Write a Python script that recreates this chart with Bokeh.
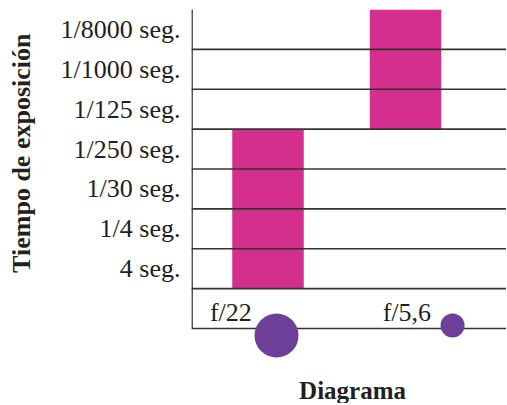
import math
from bokeh.plotting import figure
from bokeh.layouts import row
from bokeh.models import Range1d, FixedTicker, ColumnDataSource
from bokeh.core.properties import value
from bokeh.embed import file_html
from bokeh.resources import INLINE

# ---- data ----
exposure_times = ["4 seg.", "1/4 seg.", "1/30 seg.", "1/250 seg.",
                  "1/125 seg.", "1/1000 seg.", "1/8000 seg."]
apertures = ["f/22", "f/5,6"]
bar_from = ["4 seg.", "1/125 seg."]
bar_to = ["1/250 seg.", "1/8000 seg."]
aperture_diam = [44, 24]          # relative opening size (drawn in px)
y_title = "Tiempo de exposición"
x_title = "Diagrama"

BAR = "#d52f8e"
DOT = "#6e3f98"
LINE = "#333333"
TXT = "#231f20"
SERIF = "Liberation Serif"

# row index: row 0 = aperture label row, rows 1..7 = exposure times
row_of = {t: i + 1 for i, t in enumerate(exposure_times)}
n_rows = len(exposure_times) + 1

H = 403
TW = 40

# ---- narrow strip holding the vertical title ----
t = figure(width=TW, height=H, output_backend="svg", toolbar_location=None,
           x_range=Range1d(0, TW), y_range=Range1d(H, 0),
           x_axis_location=None, y_axis_location=None, min_border=0)
t.outline_line_color = None
t.xgrid.visible = False
t.ygrid.visible = False
t.text(x=[21], y=[147], text=[y_title], angle=math.pi / 2,
       text_font=value(SERIF), text_font_size="26px", text_font_style="bold",
       text_color=TXT, text_align="center", text_baseline="middle")

# ---- main chart ----
X0, X1 = -0.0564, 2.2345
p = figure(width=506 - TW, height=H, output_backend="svg", toolbar_location=None,
           x_range=Range1d(X0, X1), y_range=Range1d(-1.881, 8.0),
           x_axis_location=None, min_border_left=191 - TW, min_border_top=9,
           min_border_right=0, min_border_bottom=0)
p.outline_line_color = None
p.xgrid.visible = False
p.ygrid.visible = False
p.background_fill_color = "white"
p.border_fill_color = "white"

# y axis with exposure labels at row centres
yax = p.yaxis[0]
yax.ticker = FixedTicker(ticks=[row_of[t_] + 0.5 for t_ in exposure_times])
yax.major_label_overrides = {row_of[t_] + 0.5: t_ for t_ in exposure_times}
yax.axis_line_color = None
yax.major_tick_line_color = None
yax.minor_tick_line_color = None
yax.major_tick_out = 0
yax.major_tick_in = 0
yax.major_label_standoff = 11
yax.major_label_text_font = SERIF
yax.major_label_text_font_size = "26px"
yax.major_label_text_color = TXT

# bars
xs = [i + 0.5 for i in range(len(apertures))]
src = ColumnDataSource(dict(
    x=xs,
    bottom=[row_of[b] for b in bar_from],
    top=[row_of[e] + 1 for e in bar_to],
))
p.vbar(x="x", bottom="bottom", top="top", width=0.52, source=src,
       fill_color=BAR, line_color=None)

# row lines (over the bars)
p.segment(x0=[X0] * n_rows, x1=[X1] * n_rows,
          y0=list(range(n_rows)), y1=list(range(n_rows)),
          line_color=LINE, line_width=1.6)
# vertical axis line at the frame's left edge
p.segment(x0=[X0 + 0.004], x1=[X0 + 0.004], y0=[0], y1=[n_rows],
          line_color=LINE, line_width=1.6)

# aperture labels
p.text(x=[xs[0] - 0.27, xs[1] + 0.01], y=[0.40, 0.40], text=apertures,
       text_font=value(SERIF), text_font_size="26px", text_color=TXT,
       text_align="center", text_baseline="alphabetic")

# aperture circles
p.scatter(x=[xs[0] + 0.062, xs[1] + 0.342], y=[-0.175, 0.075],
          size=aperture_diam, fill_color=DOT, line_color=None)

# x title
p.text(x=[1.115], y=[-1.56], text=[x_title], text_font=value(SERIF),
       text_font_size="25px", text_font_style="bold", text_color=TXT,
       text_align="center", text_baseline="alphabetic")

layout = row(t, p, spacing=0)
open("out.html", "w").write(file_html(layout, INLINE))
